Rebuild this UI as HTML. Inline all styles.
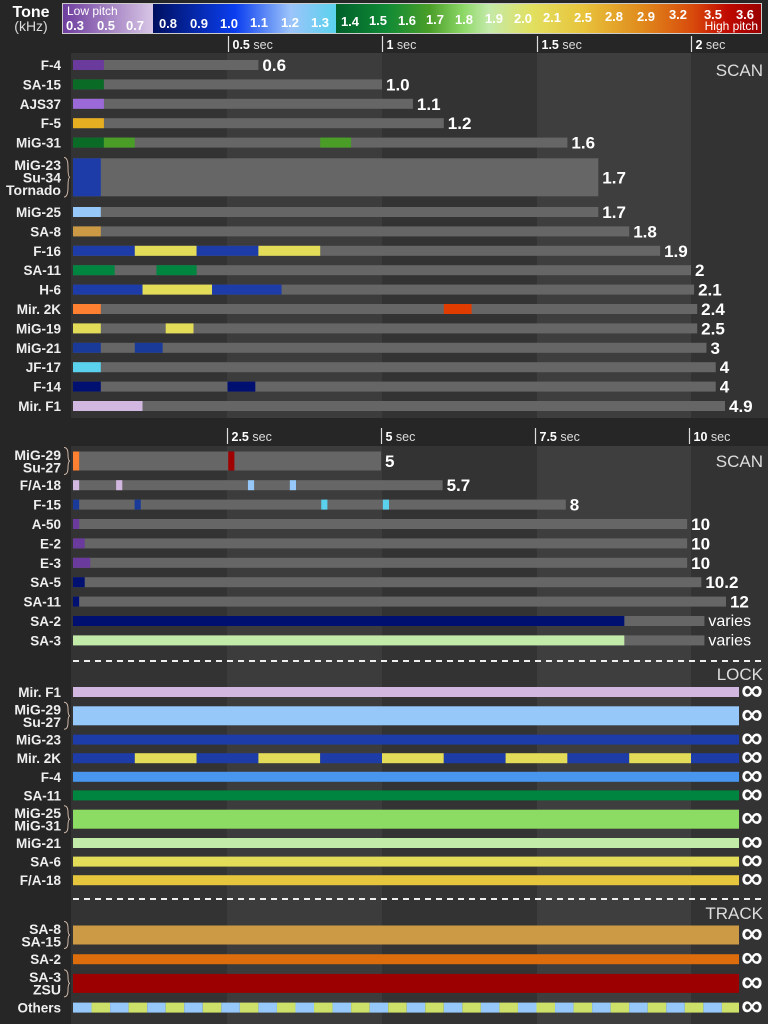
<!DOCTYPE html>
<html><head><meta charset="utf-8"><style>
html,body{margin:0;padding:0;background:#262626;}
svg{display:block;font-family:"Liberation Sans",sans-serif;}
</style></head><body>
<svg id="chart" width="768" height="1024" viewBox="0 0 768 1024" xmlns="http://www.w3.org/2000/svg">
<defs>
<linearGradient id="gPurple" x1="0" x2="1" y1="0" y2="0"><stop offset="0" stop-color="#6e3d9e"/><stop offset="1" stop-color="#d8c6e6"/></linearGradient>
<linearGradient id="gBlue" x1="0" x2="1" y1="0" y2="0"><stop offset="0" stop-color="#001060"/><stop offset="0.45" stop-color="#0b3ef0"/><stop offset="0.75" stop-color="#9cc4fa"/><stop offset="1" stop-color="#5ad2ee"/></linearGradient>
<linearGradient id="gWarm" x1="0" x2="1" y1="0" y2="0"><stop offset="0" stop-color="#00602a"/><stop offset="0.12" stop-color="#108a35"/><stop offset="0.22" stop-color="#4a9e28"/><stop offset="0.3" stop-color="#8ed868"/><stop offset="0.36" stop-color="#c4eaaa"/><stop offset="0.46" stop-color="#e2e060"/><stop offset="0.58" stop-color="#e8c43c"/><stop offset="0.72" stop-color="#e08a1c"/><stop offset="0.84" stop-color="#d84a0c"/><stop offset="0.92" stop-color="#c00a00"/><stop offset="1" stop-color="#9a0000"/></linearGradient>
</defs>
<g id="bg"></g>
<g id="legend"></g>
<g id="marks"></g>
</svg>
<script>
// ---------- data ----------
const legendTicks = ["0.3","0.5","0.7","0.8","0.9","1.0","1.1","1.2","1.3","1.4","1.5","1.6","1.7","1.8","1.9","2.0","2.1","2.5","2.8","2.9","3.2","3.5","3.6"];

const topCats = [["F-4"],["SA-15"],["AJS37"],["F-5"],["MiG-31"],["MiG-23","Su-34","Tornado"],["MiG-25"],["SA-8"],["F-16"],["SA-11"],["H-6"],["Mir. 2K"],["MiG-19"],["MiG-21"],["JF-17"],["F-14"],["Mir. F1"]];
const topLen = [0.6,1.0,1.1,1.2,1.6,1.7,1.7,1.8,1.9,2.0,2.01,2.02,2.02,2.05,2.08,2.08,2.11];
const topLabels = ["0.6","1.0","1.1","1.2","1.6","1.7","1.7","1.8","1.9","2","2.1","2.4","2.5","3","4","4","4.9"];
const topSegs = [
 [[0,0.1,"#6a3a9c"]],
 [[0,0.1,"#0a6b26"]],
 [[0,0.1,"#9b6ad8"]],
 [[0,0.1,"#e6ae20"]],
 [[0,0.1,"#0a6b26"],[0.1,0.2,"#4a9e28"],[0.8,0.9,"#4a9e28"]],
 [[0,0.09,"#1e3ca8"]],
 [[0,0.09,"#96c8fa"]],
 [[0,0.09,"#cc9a45"]],
 [[0,0.2,"#1e3ca8"],[0.2,0.4,"#e2dc58"],[0.4,0.6,"#1e3ca8"],[0.6,0.8,"#e2dc58"]],
 [[0,0.135,"#008540"],[0.27,0.4,"#008540"]],
 [[0,0.225,"#1e3ca8"],[0.225,0.45,"#e2dc58"],[0.45,0.675,"#1e3ca8"]],
 [[0,0.09,"#ff8030"],[1.2,1.29,"#e03c00"]],
 [[0,0.09,"#e2dc58"],[0.3,0.39,"#e2dc58"]],
 [[0,0.09,"#1a3a9a"],[0.2,0.29,"#1a3a9a"]],
 [[0,0.09,"#5ad2ee"]],
 [[0,0.09,"#001070"],[0.5,0.59,"#001070"]],
 [[0,0.225,"#d2b8e0"]]
];

const midCats = [["MiG-29","Su-27"],["F/A-18"],["F-15"],["A-50"],["E-2"],["E-3"],["SA-5"],["SA-11"],["SA-2"],["SA-3"]];
const midLen = [5.0,6.0,8.0,9.97,9.97,9.97,10.2,10.6,10.25,10.25];
const midLabels = ["5","5.7","8","10","10","10","10.2","12","varies","varies"];
const midSegs = [
 [[0,0.1,"#ff8030"],[2.52,2.62,"#a00000"]],
 [[0,0.1,"#d2b8e0"],[0.7,0.8,"#d2b8e0"],[2.84,2.94,"#96c8fa"],[3.52,3.62,"#96c8fa"]],
 [[0,0.1,"#1a3a9a"],[1.0,1.1,"#1a3a9a"],[4.03,4.13,"#5ad2ee"],[5.03,5.13,"#5ad2ee"]],
 [[0,0.1,"#6a3a9c"]],
 [[0,0.19,"#6a3a9c"]],
 [[0,0.28,"#6a3a9c"]],
 [[0,0.19,"#001070"]],
 [[0,0.1,"#001070"]],
 [[0,8.95,"#001070"]],
 [[0,8.95,"#c2eaa8"]]
];

const lockCats = [["Mir. F1"],["MiG-29","Su-27"],["MiG-23"],["Mir. 2K"],["F-4"],["SA-11"],["MiG-25","MiG-31"],["MiG-21"],["SA-6"],["F/A-18"]];
const lockColors = [["#d2b8e0"],["#96c8fa"],["#1e3ca8"],["#1e3ca8","#e2dc58"],["#4896ee"],["#008540"],["#8cdc64"],["#c2eaa8"],["#e2dc58"],["#e6c63c"]];
const lockPeriod = [0,0,0,0.2,0,0,0,0,0,0];

const trackCats = [["SA-8","SA-15"],["SA-2"],["SA-3","ZSU"],["Others"]];
const trackColors = [["#cc9a45"],["#dc6c0c"],["#9c0000"],["#96c8fa","#cce06a"]];
const trackPeriod = [0,0,0,0.06];

const axisTop = [0.5,1,1.5,2];
const axisMid = [2.5,5,7.5,10];

// ---------- layout ----------
const NS="http://www.w3.org/2000/svg";
const X0=73;
const xTop = s => X0 + s*309;
const xMid = s => X0 + s*61.6;
const INF_END = 739;
function el(tag, attrs, parent){const e=document.createElementNS(NS,tag);for(const k in attrs)e.setAttribute(k,attrs[k]);parent.appendChild(e);return e;}
const bg=document.getElementById('bg'), lg=document.getElementById('legend'), mk=document.getElementById('marks');

let r=el('rect',{x:0,y:0,width:768,height:1024,fill:'#262626'},bg);


const bandEdges=[71,227,382,537,691,768];
const bandFill=['#333333','#3c3c3c','#333333','#3e3e3e','#333333'];
[[53,418],[446,1024]].forEach(([y0,y1])=>{
 for(let i=0;i<5;i++){
  const b=el('rect',{x:bandEdges[i],y:y0,width:bandEdges[i+1]-bandEdges[i],height:y1-y0,fill:bandFill[i]},bg);
  
  
 }
});

// legend
el('rect',{x:62,y:3,width:700,height:31,fill:'#cccccc'},lg);
el('rect',{x:63,y:4,width:90,height:29,fill:'url(#gPurple)'},lg);
el('rect',{x:153,y:4,width:183,height:29,fill:'url(#gBlue)'},lg);
el('rect',{x:336,y:4,width:425,height:29,fill:'url(#gWarm)'},lg);
const lx=[75,106,135,168,199,229,259,290,320,350,378,407,435,464,494,523,552,583,614,646,678,713,745];
const ly=[30,30,30,28,28,28,27,27,27,26,25,25,24,24,23,23,22,22,21,21,19,19,19];
legendTicks.forEach((t,i)=>{
 const tx=el('text',{x:lx[i],y:ly[i],'text-anchor':'middle','font-size':13,'font-weight':'bold',fill:'#ffffff'},lg);
 tx.textContent=t;
 
 
});
let t=el('text',{x:67,y:15,'font-size':12,fill:'#ffffff'},lg);t.textContent='Low pitch';


t=el('text',{x:758,y:30,'text-anchor':'end','font-size':12,fill:'#ffffff'},lg);t.textContent='High pitch';


t=el('text',{x:31,y:17,'text-anchor':'middle','font-size':16,'font-weight':'bold',fill:'#ffffff'},lg);t.textContent='Tone';


t=el('text',{x:31,y:31,'text-anchor':'middle','font-size':14,fill:'#dddddd'},lg);t.textContent='(kHz)';



function axis(ticks, xf, y){
 ticks.forEach(v=>{
  const x=Math.round(xf(v))+0.5;
  const l=el('line',{x1:x,x2:x,y1:y-13,y2:y+3,stroke:'#dddddd','stroke-width':1.2},mk);
  
  
  const tx=el('text',{x:x+4,y:y,'font-size':12.5,fill:'#dddddd'},mk);
  
  
  const b=document.createElementNS(NS,'tspan');b.setAttribute('font-weight','bold');b.setAttribute('fill','#ffffff');b.textContent=String(v);tx.appendChild(b);
  tx.appendChild(document.createTextNode(' sec'));
 });
}
axis(axisTop,xTop,49);
axis(axisMid,xMid,441);

function rowHeight(n){return n===1?19.4:(n===2?29:50);}
function labelRow(lines, yc){
 const g=el('g',{},mk);
 
 
 const step=lines.length>1?12.5:0;
 const start=yc-step*(lines.length-1)/2;
 lines.forEach((s,i)=>{
  const tx=el('text',{x:61,y:start+i*step+5,'text-anchor':'end','font-size':lines.length>1?14:13.5,'font-weight':'bold',fill:'#eeeeee'},g);
  tx.textContent=s;
 });
 if(lines.length>1){
  const h=lines.length*12.5+2;
  el('path',{d:`M64 ${yc-h/2} q4 0 4 ${h/4} q0 ${h/4} 2 ${h/4} q-2 0 -2 ${h/4} q0 ${h/4} -4 ${h/4}`,fill:'none',stroke:'#cfb8a8','stroke-width':1},g);
 }
}
function barH(n){return n===1?10:(n===2?19:38);}
function valueLabel(x,yc,txt,isWord){
 const tx=el('text',{x:x+4,y:yc+(isWord?5:6),'font-size':isWord?16:17,'font-weight':isWord?'normal':'bold',fill:'#ffffff'},mk);
 tx.textContent=txt;
 
 
}
function sectionTitle(txt,y){
 const tx=el('text',{x:763,y:y,'text-anchor':'end','font-size':17,'font-weight':'300',fill:'#dddddd'},mk);
 tx.textContent=txt;
 
 
}
function dashed(y){
 const l=el('line',{x1:73,x2:765,y1:y,y2:y,stroke:'#eeeeee','stroke-width':2,'stroke-dasharray':'6 5'},mk);
 
 
}

function timedSection(cats,lens,labels,segs,xf,yStart){
 let y=yStart-rowHeight(cats[0].length)/2;
 cats.forEach((c,i)=>{
  const rh=rowHeight(c.length); const yc=y+rh/2; y+=rh;
  labelRow(c,yc);
  const h=barH(c.length);
  const bar=el('rect',{x:X0,y:yc-h/2,width:xf(lens[i])-X0,height:h,fill:'#666666'},mk);
  
  
  segs[i].forEach(s=>{
   const sg=el('rect',{x:xf(s[0]),y:yc-h/2,width:xf(s[1])-xf(s[0]),height:h,fill:s[2]},mk);
   
   
  });
  const word=isNaN(parseFloat(labels[i]));
  valueLabel(xf(lens[i]),yc,labels[i],word);
 });
}
timedSection(topCats,topLen,topLabels,topSegs,xTop,65);
timedSection(midCats,midLen,midLabels,midSegs,xMid,461);
sectionTitle('SCAN',76);
sectionTitle('SCAN',467);

var prevH=0;
function infSection(cats,colors,period,yStart,step,xf){
 let y=yStart;
 cats.forEach((c,i)=>{
  const rh=c.length===1?step:29;
  if(i>0){y+= (prevH+rh)/2;}
  const yc=y; prevH=rh;
  labelRow(c,yc);
  const h=barH(c.length===1?1:2);
  if(period[i]===0){
   const b=el('rect',{x:X0,y:yc-h/2,width:INF_END-X0,height:h,fill:colors[i][0]},mk);
   
   
  } else {
   let s=0,k=0;
   while(xf(s)<INF_END){
    const x1=Math.min(xf(s+period[i]),INF_END);
    const b=el('rect',{x:xf(s),y:yc-h/2,width:x1-xf(s),height:h,fill:colors[i][k%colors[i].length]},mk);
    
    
    s+=period[i];k++;
   }
  }
  const inf=el('text',{x:752,y:yc+8,'text-anchor':'middle','font-size':30,'font-weight':'bold',fill:'#ffffff'},mk);
  inf.textContent='∞';
  
  
 });
}
dashed(661);
sectionTitle('LOCK',680);
infSection(lockCats,lockColors,lockPeriod,692,18.6,xTop);
dashed(899);
sectionTitle('TRACK',919);
infSection(trackCats,trackColors,trackPeriod,935,19.4,xTop);
</script>
</body></html>
